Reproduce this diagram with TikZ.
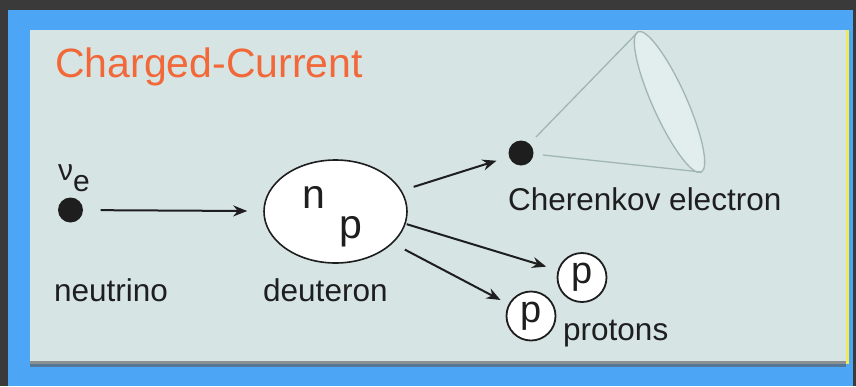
\documentclass[tikz,border=0pt]{standalone}
\usepackage{fontspec}
\setmainfont{Liberation Sans}
\usetikzlibrary{arrows.meta,shapes.geometric}
\definecolor{bgdark}{HTML}{3A3A3A}
\definecolor{frameblue}{HTML}{4DA6F5}
\definecolor{panel}{HTML}{D6E4E4}
\definecolor{titleorange}{HTML}{F26838}
\definecolor{ink}{HTML}{1E1E1E}
\definecolor{conegray}{HTML}{A2B5B5}
\definecolor{conefill}{HTML}{E2EDED}
\definecolor{edgeyellow}{HTML}{F2E85C}
\newcommand{\fsz}[1]{\fontsize{#1}{#1}\selectfont}
\tikzset{
  dot/.style={circle,fill=ink,minimum size=25pt,inner sep=0pt},
  deutbox/.style={ellipse,draw=ink,line width=1.6pt,fill=white,minimum width=143pt,minimum height=103pt,inner sep=0pt},
  protonbox/.style={circle,draw=ink,line width=1.8pt,fill=white,minimum size=49pt,inner sep=0pt,text=ink,font=\fsz{38}},
  lbl/.style={anchor=base west,inner sep=0pt,text=ink,font=\fsz{31.5}},
  arr/.style={draw=ink,line width=2pt,-{Stealth[length=14pt,width=11pt]}},
  conestroke/.style={draw=conegray,line width=1.3pt}
}
\begin{document}
\begin{tikzpicture}[x=1pt,y=-1pt]
\useasboundingbox (0,0) rectangle (856,386);
% background and frame
\fill[bgdark] (0,0) rectangle (856,386);
\fill[frameblue] (8,10) rectangle (853,386);
\fill[panel] (30,30) rectangle (846,364);
\fill[gray!70!black,opacity=0.6] (30,361) rectangle (846,367);
\fill[edgeyellow] (846,30) rectangle (849,364);
% title
\node[anchor=base west,inner sep=0pt,text=titleorange,font=\fsz{41}] (title) at (55,77) {Charged-Current};
% cone
\draw[conestroke,fill=conefill] (669.5,102) ellipse [x radius=77pt, y radius=17pt, rotate=-65.8];
\coordinate (coneA) at (536,137);
\coordinate (coneB) at (638,32);
\coordinate (coneC) at (543,155);
\coordinate (coneD) at (701,172);
\draw[conestroke] (coneA) -- (coneB);
\draw[conestroke] (coneC) -- (coneD);
% particles
\node[dot] (nu) at (70.5,210) {};
\node[anchor=base west,inner sep=0pt,text=ink,font=\fsz{30}] (nulbl) at (58,180) {ν\raisebox{-11pt}{e}};
\node[deutbox] (deut) at (335.5,211.5) {};
\node[anchor=base west,inner sep=0pt,text=ink,font=\fsz{41}] (nlbl) at (302,208) {n};
\node[anchor=base west,inner sep=0pt,text=ink,font=\fsz{41}] (plbl) at (339,238) {p};
\node[dot] (elec) at (521,153) {};
\node[protonbox] (p1) at (582,277.5) {p};
\node[protonbox] (p2) at (531,316) {p};
% labels
\node[lbl] (neutrino) at (54,301) {neutrino};
\node[lbl] (deuteron) at (263,301) {deuteron};
\node[lbl] (cherenkov) at (508,210) {Cherenkov electron};
\node[lbl] (protons) at (563,340) {protons};
% arrows
\draw[arr,shorten <=17.5pt,shorten >=16pt] (nu) -- (deut);
\draw[arr,shorten <=12.5pt,shorten >=13pt] (deut) -- (elec);
\draw[arr,shorten <=1pt,shorten >=12pt] (deut.-10) -- (p1);
\draw[arr,shorten <=13.5pt,shorten >=9pt] (deut.-29) -- (p2);
\end{tikzpicture}
\end{document}
